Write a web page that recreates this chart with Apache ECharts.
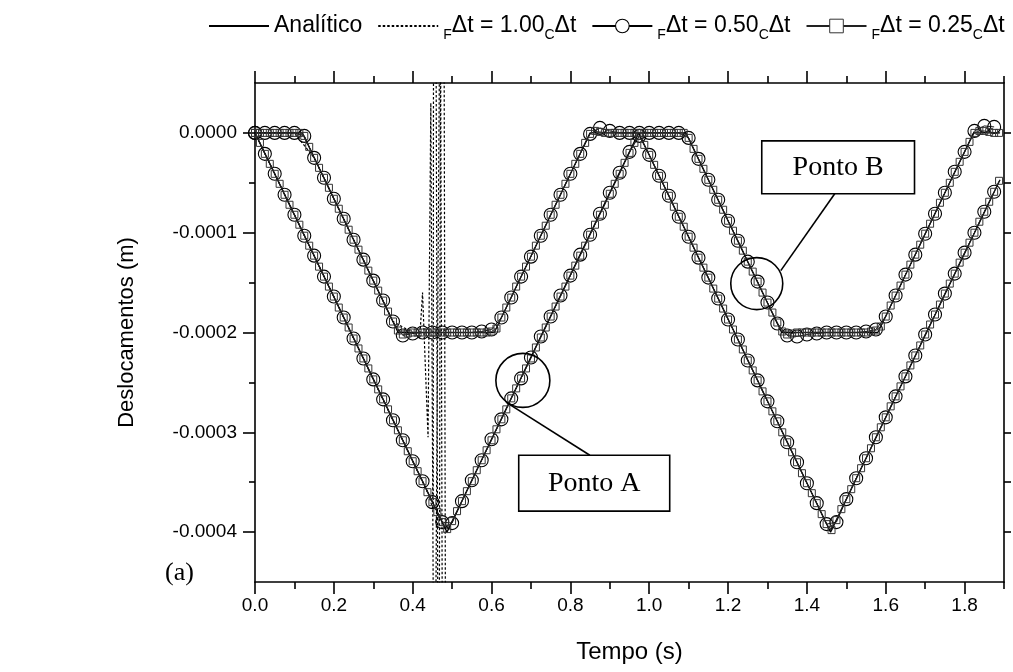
<!DOCTYPE html>
<html><head><meta charset="utf-8">
<script src="https://cdn.jsdelivr.net/npm/echarts@6/dist/echarts.min.js"></script>
<style>html,body{margin:0;padding:0;background:#fff}#c{width:1013px;height:672px}</style>
</head><body><div id="c"></div>
<script>
// values in micrometres (1e-6 m); converted to metres when building series
const UM = 1e-6;
const DT_050 = 0.025;   // time step of the FΔt = 0.50 CΔt solution (s)
const DT_025 = 0.0125;  // time step of the FΔt = 0.25 CΔt solution (s)

// Ponto A
const A_050 = [0,-21,-41,-62,-82,-103,-123,-144,-164,-185,-206,-226,-247,-267,-288,-308,-329,-349,-370,-390,
  -391,-369,-348,-328,-307,-287,-266,-246,-225,-204,-184,-163,-143,-122,-102,-81,-60,-40,-19,-3,
  -22,-43,-63,-84,-104,-125,-145,-166,-187,-207,-228,-248,-269,-289,-310,-330,-351,-371,-392,-390,
  -367,-346,-326,-305,-285,-264,-244,-223,-202,-182,-161,-141,-120,-100,-79,-59];
const A_025 = [0,-10,-21,-31,-41,-51,-62,-72,-82,-92,
  -103,-113,-123,-134,-144,-154,-164,-175,-185,-195,
  -206,-216,-226,-236,-247,-257,-267,-277,-288,-298,
  -308,-319,-329,-339,-349,-360,-370,-380,-390,-397,
  -389,-379,-369,-359,-349,-338,-328,-318,-308,-297,
  -287,-277,-266,-256,-246,-236,-226,-215,-205,-195,
  -184,-174,-164,-154,-143,-133,-123,-113,-102,-92,
  -82,-72,-61,-51,-41,-30,-20,-10,-3,-12,
  -22,-32,-43,-53,-63,-74,-84,-94,-104,-115,
  -125,-135,-145,-156,-166,-176,-187,-197,-207,-217,
  -228,-238,-248,-259,-269,-279,-289,-300,-310,-320,
  -330,-341,-351,-361,-371,-382,-392,-398,-388,-377,
  -367,-357,-346,-336,-326,-316,-305,-295,-285,-274,
  -264,-254,-244,-233,-223,-213,-202,-192,-182,-172,
  -161,-151,-141,-130,-120,-110,-100,-89,-79,-69,
  -59,-48];
const ANA_A_T = [0, 0.487, 0.973, 1.46, 1.89];
const ANA_A_V = [0, -400, 0, -400, -47];
const F100_A_T = [0,0.05,0.1,0.15,0.2,0.25,0.3,0.35,0.4,0.44,0.452,0.454,0.466,0.475,0.486];
const F100_A_V = [0,-41,-82,-123,-164,-206,-247,-288,-329,-362,-378,800,-800,900,-1000];

// Ponto B
const B_050 = [0,0,0,0,0,-3,-25,-45,-66,-86,
  -107,-127,-148,-168,-189,-203,-201,-200,-200,-200,
  -200,-200,-200,-199,-197,-185,-165,-144,-124,-103,
  -82,-62,-41,-21,-1,5,2,0,0,0,
  0,0,0,0,-5,-26,-47,-67,-88,-108,
  -129,-149,-170,-191,-203,-204,-202,-201,-200,-200,
  -200,-200,-199,-197,-184,-163,-142,-122,-101,-81,
  -60,-39,-19,2,7,6];
const B_025 = [0,0,0,0,0,0,0,0,0,0,
  -3,-14,-25,-35,-45,-55,-66,-76,-86,-97,
  -107,-117,-127,-138,-148,-158,-168,-179,-189,-198,
  -202,-201,-200,-200,-200,-200,-200,-200,-200,-200,
  -200,-200,-200,-200,-200,-200,-200,-200,-199,-196,
  -185,-175,-165,-154,-144,-134,-124,-113,-103,-93,
  -82,-72,-62,-51,-41,-31,-21,-10,-1,2,
  1,0,0,0,0,0,0,0,0,0,
  0,0,0,0,0,0,0,0,-5,-16,
  -26,-36,-47,-57,-67,-77,-88,-98,-108,-118,
  -129,-139,-149,-160,-170,-180,-190,-199,-202,-201,
  -200,-200,-200,-200,-200,-200,-200,-200,-200,-200,
  -200,-200,-200,-200,-200,-199,-198,-194,-184,-173,
  -163,-153,-142,-132,-122,-112,-101,-91,-81,-70,
  -60,-50,-39,-29,-19,-9,0,2,2,1,
  0,0];
const ANA_B_T = [0, 0.12, 0.363, 0.607, 0.85, 1.093, 1.336, 1.58, 1.823, 1.89];
const ANA_B_V = [0, 0, -200, -200, 0, 0, -200, -200, 0, 0];
const F100_B_T = [0,0.05,0.1,0.15,0.2,0.25,0.3,0.35,0.4,0.418,0.425,0.439,0.446,0.455,0.47,0.478];
const F100_B_V = [0,0,0,-25,-66,-107,-148,-189,-200,-205,-160,-305,30,-700,200,-900];

// axis ticks / labels
const X_MAJOR = [0,0.2,0.4,0.6,0.8,1.0,1.2,1.4,1.6,1.8];
const X_MINOR = [0.1,0.3,0.5,0.7,0.9,1.1,1.3,1.5,1.7,1.9];
const Y_MAJOR = [0,-0.0001,-0.0002,-0.0003,-0.0004];
const Y_MINOR = [-0.00005,-0.00015,-0.00025,-0.00035];
const Y_RIGHT = [0,-0.00005,-0.0001,-0.00015,-0.0002,-0.00025,-0.0003,-0.00035,-0.0004];

const LEGEND = {
  'Analítico': 'Analítico',
  'F100': '{s|F}Δt = 1.00{s|C}Δt',
  'F050': '{s|F}Δt = 0.50{s|C}Δt',
  'F025': '{s|F}Δt = 0.25{s|C}Δt'
};

// annotation anchors (data units: s, µm)
const ANN_A = {circle:[0.6795,-248], box:[[0.669,-323],[1.052,-379]], line:[[0.6415,-271],[0.8494,-323]], text:'Ponto A'};
const ANN_B = {circle:[1.2728,-151], box:[[1.2855,-8],[1.673,-61]], line:[[1.4706,-61],[1.3337,-138]], text:'Ponto B'};

const SANS = '"Liberation Sans", Arial, Helvetica, sans-serif';
const SERIF = '"Liberation Serif", "Times New Roman", serif';

const pairs = (ts, vs) => vs.map((v, i) => [ts[i], v * UM]);
const uniform = (dt, vs) => vs.map((v, i) => [+(i * dt).toFixed(4), v * UM]);

const black = {color:'#000', width:1.6};
function xAx(pos, ticks, len, showLine, label, extra) {
  return Object.assign({
    type:'value', position:pos, min:0, max:1.9, gridIndex:0,
    splitLine:{show:false},
    axisLine:{show:showLine, onZero:false, lineStyle:black},
    axisTick:{show:true, customValues:ticks, length:len, inside:false, lineStyle:black},
    axisLabel: label ? {show:true, customValues:X_MAJOR, formatter:v=>v.toFixed(1), fontSize:19, color:'#000', margin:14, fontFamily:SANS} : {show:false}
  }, extra || {});
}
function yAx(pos, ticks, len, showLine, label, extra) {
  return Object.assign({
    type:'value', position:pos, min:-0.00045, max:0.00005, gridIndex:0,
    splitLine:{show:false},
    axisLine:{show:showLine, onZero:false, lineStyle:black},
    axisTick:{show:true, customValues:ticks, length:len, inside:false, lineStyle:black},
    axisLabel: label ? {show:true, customValues:Y_MAJOR, formatter:v=>(Math.abs(v)<1e-12?0:v).toFixed(4), fontSize:19, color:'#000', margin:18, fontFamily:SANS} : {show:false}
  }, extra || {});
}

const lineSeries = (name, data, extra) => Object.assign({
  name, type:'line', data, xAxisIndex:0, yAxisIndex:0, clip:true, animation:false,
  emphasis:{disabled:true}
}, extra);

const anaStyle = {symbol:'none', showSymbol:false, lineStyle:{color:'#000', width:1.3}, itemStyle:{color:'#000'}, z:2};
const f100Style = {symbol:'none', showSymbol:false, lineStyle:{color:'#000', width:1.2, type:[2.5,2]}, itemStyle:{color:'#000'}, z:3};
const f050Style = {symbol:'circle', symbolSize:13, showSymbol:true, showAllSymbol:true, lineStyle:{color:'#000', width:0.9},
  itemStyle:{color:'rgba(0,0,0,0)', borderColor:'#000', borderWidth:1.1}, z:4};
const f025Style = {symbol:'rect', symbolSize:7, showSymbol:true, showAllSymbol:true, lineStyle:{color:'#222', width:0.9},
  itemStyle:{color:'rgba(0,0,0,0)', borderColor:'#333', borderWidth:1}, z:5};

const chart = echarts.init(document.getElementById('c'), null, {renderer:'canvas'});
chart.setOption({
  animation:false,
  backgroundColor:'#fff',
  grid:{left:255, top:83, width:749, height:499, containLabel:false},
  legend:{
    left:203, top:5, itemWidth:60, itemHeight:17, itemGap:15,
    data:[
      {name:'Analítico', itemStyle:{opacity:0}},
      {name:'F100', itemStyle:{opacity:0}},
      {name:'F050', itemStyle:{color:'#fff', borderColor:'#000', borderWidth:1.1}},
      {name:'F025', itemStyle:{color:'#fff', borderColor:'#333', borderWidth:1}}
    ],
    formatter:n=>LEGEND[n],
    textStyle:{fontSize:23, color:'#000', fontFamily:SANS, lineHeight:32,
      rich:{s:{fontSize:14, lineHeight:14, verticalAlign:'bottom', fontFamily:SANS, color:'#000'}}}
  },
  xAxis:[
    xAx('bottom', X_MAJOR, 12, true, true, {name:'Tempo (s)', nameLocation:'middle', nameGap:58,
      nameTextStyle:{fontSize:24, color:'#000', fontFamily:SANS}}),
    xAx('bottom', X_MINOR, 7, false, false),
    xAx('top', X_MAJOR, 12, true, false),
    xAx('top', X_MINOR, 7, false, false)
  ],
  yAxis:[
    yAx('left', Y_MAJOR, 12, true, true, {name:'Deslocamentos (m)', nameLocation:'middle', nameGap:117, nameRotate:90,
      nameTextStyle:{fontSize:22, color:'#000', fontFamily:SANS}}),
    yAx('left', Y_MINOR, 6, false, false),
    yAx('right', Y_RIGHT, 7, true, false)
  ],
  series:[
    lineSeries('Analítico', pairs(ANA_A_T, ANA_A_V), anaStyle),
    lineSeries('Analítico', pairs(ANA_B_T, ANA_B_V), anaStyle),
    lineSeries('F100', pairs(F100_A_T, F100_A_V), f100Style),
    lineSeries('F100', pairs(F100_B_T, F100_B_V), f100Style),
    lineSeries('F050', uniform(DT_050, A_050), f050Style),
    lineSeries('F050', uniform(DT_050, B_050), f050Style),
    lineSeries('F025', uniform(DT_025, A_025), f025Style),
    lineSeries('F025', uniform(DT_025, B_025), f025Style)
  ]
});

function px(p) { return chart.convertToPixel({gridIndex:0}, [p[0], p[1] * UM]); }
function annotation(a, r) {
  const c = px(a.circle), b0 = px(a.box[0]), b1 = px(a.box[1]), l0 = px(a.line[0]), l1 = px(a.line[1]);
  const x = Math.min(b0[0], b1[0]), y = Math.min(b0[1], b1[1]);
  const w = Math.abs(b1[0] - b0[0]), h = Math.abs(b1[1] - b0[1]);
  return [
    {type:'circle', shape:{cx:c[0], cy:c[1], r:r}, style:{fill:'none', stroke:'#000', lineWidth:1.6}, z:100},
    {type:'line', shape:{x1:l0[0], y1:l0[1], x2:l1[0], y2:l1[1]}, style:{stroke:'#000', lineWidth:1.6}, z:100},
    {type:'rect', shape:{x:x, y:y, width:w, height:h}, style:{fill:'#fff', stroke:'#000', lineWidth:1.6}, z:100},
    {type:'text', x:x + w / 2, y:y + h / 2, style:{text:a.text, font:'28px ' + SERIF, fill:'#000', align:'center', verticalAlign:'middle'}, z:101}
  ];
}
chart.setOption({
  graphic:[].concat(
    annotation(ANN_A, 27),
    annotation(ANN_B, 26),
    [{type:'text', left:165, top:560, style:{text:'(a)', font:'26px ' + SERIF, fill:'#000'}, z:100}]
  )
});
</script>
</body></html>
